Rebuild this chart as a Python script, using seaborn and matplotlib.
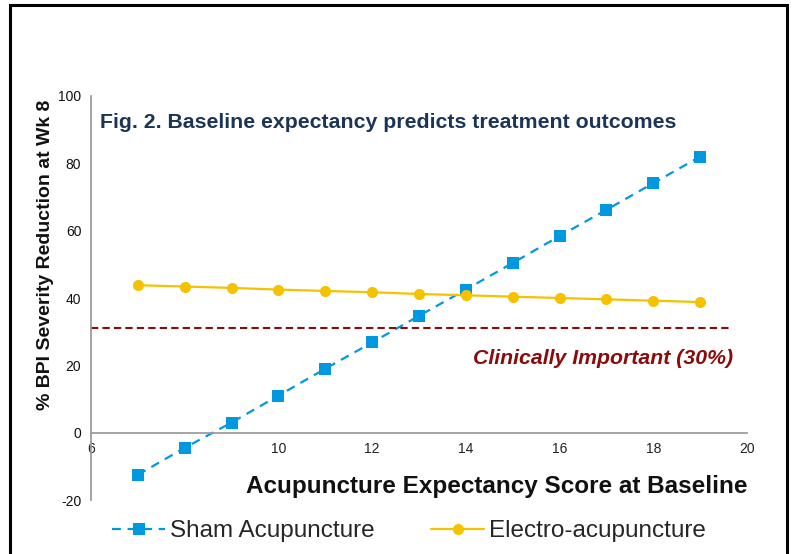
import matplotlib
matplotlib.use("Agg")
import matplotlib.pyplot as plt
import seaborn as sns
import pandas as pd
from matplotlib.patches import Rectangle
from matplotlib.lines import Line2D

sns.set_theme(style="white")
plt.rcParams['font.family'] = ['Liberation Sans', 'DejaVu Sans']
plt.rcParams['axes.unicode_minus'] = False

scores = [7, 8, 9, 10, 11, 12, 13, 14, 15, 16, 17, 18, 19]
sham = [-12.5, -4.5, 3.0, 11.0, 19.0, 26.8, 34.7, 42.5, 50.4, 58.4, 66.2, 74.1, 82.0]
electro = [43.8, 43.4, 43.0, 42.5, 42.1, 41.7, 41.2, 40.8, 40.4, 40.0, 39.6, 39.2, 38.8]
threshold = 31.2
x_ticks = [6, 8, 10, 12, 14, 16, 18, 20]
y_ticks = [-20, 0, 20, 40, 60, 80, 100]

blue = "#0099E0"
gold = "#F5C200"
darkred = "#8B0A0A"

df = pd.DataFrame({
    "score": scores * 2,
    "value": sham + electro,
    "group": ["Sham Acupuncture"] * len(scores) + ["Electro-acupuncture"] * len(scores),
})

fig = plt.figure(figsize=(7.96, 5.54), dpi=100)
ax = fig.add_axes([91/796, 1-500/554, (747-91)/796, (500-96)/554])

sns.lineplot(data=df[df.group == "Sham Acupuncture"], x="score", y="value", ax=ax,
             color=blue, linestyle=(0, (4, 3)), linewidth=1.6, marker="s",
             markersize=8, markeredgewidth=0, label="_nolegend_")
sns.lineplot(data=df[df.group == "Electro-acupuncture"], x="score", y="value", ax=ax,
             color=gold, linestyle="-", linewidth=1.6, marker="o",
             markersize=8, markeredgewidth=0, label="_nolegend_")

ax.plot([6, 19.65], [threshold, threshold], color=darkred, linestyle=(0, (3.5, 2)), linewidth=1.5)

ax.set_xlim(6, 20)
ax.set_ylim(-20, 100)
ax.set_xticks(x_ticks)
ax.set_yticks(y_ticks)
ax.tick_params(axis="both", labelsize=10, colors="#222222", length=4, width=0.8)
ax.tick_params(axis="x", direction="out", pad=3)
ax.tick_params(axis="y", direction="out", pad=3)
for lbl in ax.get_xticklabels() + ax.get_yticklabels():
    lbl.set_color("#111111")

ax.spines["top"].set_visible(False)
ax.spines["right"].set_visible(False)
ax.spines["bottom"].set_position(("data", 0))
ax.spines["bottom"].set_color("#999999")
ax.spines["left"].set_color("#999999")
for t in ax.xaxis.get_ticklines() + ax.yaxis.get_ticklines():
    t.set_color("#999999")
ax.set_xlabel("")
ax.set_ylabel("")

fig.text(100/796, 1-122/554, "Fig. 2. Baseline expectancy predicts treatment outcomes",
         fontsize=15.3, fontweight="bold", color="#1C3557", va="center", ha="left")
fig.text(733/796, 1-358/554, "Clinically Important (30%)", fontsize=15.3,
         fontweight="bold", fontstyle="italic", color=darkred, va="center", ha="right")
fig.text(46/796, 1-255/554, "% BPI Severity Reduction at Wk 8", fontsize=14.0,
         fontweight="bold", rotation=90, va="center", ha="center", color="#111111")
fig.text(747/796, 1-487/554, "Acupuncture Expectancy Score at Baseline", fontsize=17.5,
         fontweight="bold", va="center", ha="right", color="#111111")

handles = [
    Line2D([], [], color=blue, linestyle=(0, (4, 3)), linewidth=1.6, marker="s",
           markersize=8, markeredgewidth=0),
    Line2D([], [], color=gold, linestyle="-", linewidth=1.6, marker="o",
           markersize=8, markeredgewidth=0),
]
fig.legend(handles, ["Sham Acupuncture", "Electro-acupuncture"], loc="center",
           bbox_to_anchor=(409/796, 1-531/554), ncol=2, frameon=False,
           fontsize=17.5, handlelength=2.2, handletextpad=0.2, columnspacing=2.3)

fig.patches.append(Rectangle((9.5/796, -0.05), (786.5-9.5)/796, 1.05 - 4.5/554,
                             transform=fig.transFigure, fill=False, edgecolor="black",
                             linewidth=2.2, figure=fig))

fig.savefig("out.png", dpi=100, facecolor="white")
